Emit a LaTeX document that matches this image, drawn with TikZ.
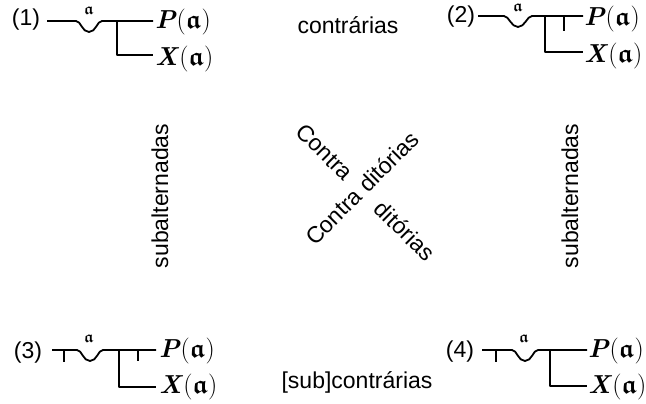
\documentclass[tikz,border=0pt]{standalone}
\usepackage{amsmath}
\usepackage{amssymb}
\usepackage{fontspec}
\newfontfamily\arial{Liberation Sans}
\newcommand\fa{\ensuremath{\boldsymbol{\mathfrak{a}}}}
\begin{document}
\begin{tikzpicture}[x=1pt,y=-1pt,
  sans/.style={font=\arial\fontsize{23}{27}\selectfont, inner sep=0pt},
  fx/.style={font=\fontsize{26}{29}\selectfont, inner sep=0pt, anchor=west},
  var/.style={font=\fontsize{16}{17}\selectfont, inner sep=0pt},
  stroke/.style={line width=1.8pt, line join=round}]
\useasboundingbox (0,0) rectangle (646,404);
% (1)
\node[sans] (n1) at (26,20) {(1)};
\node[fx] (P1) at (155,22) {\textbf{\textit{P}}(\fa)};
\node[fx] (X1) at (155,59) {\textbf{\textit{X}}(\fa)};
\node[var] (a1) at (89,11) {\fa};
\coordinate (s1) at (47,21); \coordinate (e1) at (153,21);
\coordinate (v1) at (117,21); \coordinate (w1) at (117,55); \coordinate (f1) at (153,55);
\draw[stroke] (s1) -- (76,21) .. controls +(5,0) and +(-7,0) .. (89,32) .. controls +(7,0) and +(-5,0) .. (102,21) -- (e1);
\draw[stroke] (v1) -- (w1) -- (f1);
% (2)
\node[sans] (n2) at (461,17) {(2)};
\node[fx] (P2) at (584,19) {\textbf{\textit{P}}(\fa)};
\node[fx] (X2) at (584,56) {\textbf{\textit{X}}(\fa)};
\node[var] (a2) at (518,8) {\fa};
\coordinate (s2) at (478,16); \coordinate (e2) at (583,16);
\coordinate (v2) at (545,16); \coordinate (w2) at (545,52); \coordinate (f2) at (583,52);
\coordinate (t2) at (564,16); \coordinate (u2) at (564,31);
\draw[stroke] (s2) -- (504,16) .. controls +(5,0) and +(-7,0) .. (518,27) .. controls +(7,0) and +(-5,0) .. (532,16) -- (e2);
\draw[stroke] (v2) -- (w2) -- (f2);
\draw[stroke] (t2) -- (u2);
% (3)
\node[sans] (n3) at (28,353) {(3)};
\node[fx] (P3) at (159,351) {\textbf{\textit{P}}(\fa)};
\node[fx] (X3) at (159,387) {\textbf{\textit{X}}(\fa)};
\node[var] (a3) at (89,339) {\fa};
\coordinate (s3) at (52,350); \coordinate (e3) at (156,350);
\coordinate (v3) at (119,350); \coordinate (w3) at (119,387); \coordinate (f3) at (156,387);
\coordinate (t3) at (64,350); \coordinate (u3) at (64,362);
\coordinate (t3b) at (138,350); \coordinate (u3b) at (138,361);
\draw[stroke] (s3) -- (77,350) .. controls +(5,0) and +(-7,0) .. (90,361) .. controls +(7,0) and +(-5,0) .. (103,350) -- (e3);
\draw[stroke] (v3) -- (w3) -- (f3);
\draw[stroke] (t3) -- (u3);
\draw[stroke] (t3b) -- (u3b);
% (4)
\node[sans] (n4) at (460,352) {(4)};
\node[fx] (P4) at (588,351) {\textbf{\textit{P}}(\fa)};
\node[fx] (X4) at (588,387) {\textbf{\textit{X}}(\fa)};
\node[var] (a4) at (524,339) {\fa};
\coordinate (s4) at (482,350); \coordinate (e4) at (587,350);
\coordinate (v4) at (550,350); \coordinate (w4) at (550,386); \coordinate (f4) at (587,386);
\coordinate (t4) at (496,350); \coordinate (u4) at (496,362);
\draw[stroke] (s4) -- (512,350) .. controls +(5,0) and +(-7,0) .. (525,361) .. controls +(7,0) and +(-5,0) .. (538,350) -- (e4);
\draw[stroke] (v4) -- (w4) -- (f4);
\draw[stroke] (t4) -- (u4);
% relations
\node[sans] (c) at (348,25) {contrárias};
\node[sans] (sc) at (357,382) {[sub]contrárias};
\node[sans, rotate=90] (sl) at (160,196) {subalternadas};
\node[sans, rotate=90] (sr) at (570,196) {subalternadas};
\node[sans, rotate=45] (d1) at (362,188) {Contra ditórias};
\node[sans, rotate=-45] (d2a) at (325,152) {Contra};
\node[sans, rotate=-45] (d2b) at (405,231) {ditórias};
\end{tikzpicture}
\end{document}
